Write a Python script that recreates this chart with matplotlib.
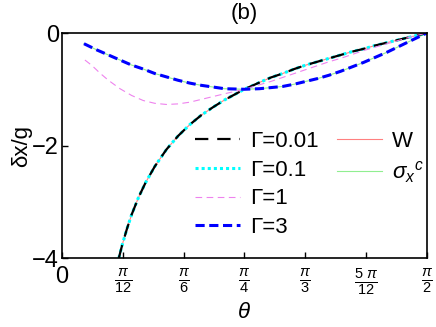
import matplotlib
matplotlib.use("Agg")
import matplotlib.pyplot as plt
from matplotlib.lines import Line2D
import numpy as np

plt.rcParams['font.family'] = ['Liberation Sans', 'DejaVu Sans']
plt.rcParams['mathtext.fontset'] = 'custom'
plt.rcParams['mathtext.rm'] = 'Liberation Sans'
plt.rcParams['mathtext.it'] = 'Liberation Sans:italic'

# curve through small-Gamma limit (Gamma=0.01, 0.1, W)
theta_a = [0.245, 0.26, 0.28, 0.30, 0.33, 0.36, 0.40, 0.45, 0.50, 0.55, 0.60, 0.65,
           0.70, 0.785, 0.85, 0.90, 0.95, 1.00, 1.05, 1.10, 1.15, 1.20, 1.25, 1.30,
           1.35, 1.40, 1.45, 1.50, 1.5708]
dx_a = [-4.00, -3.76, -3.48, -3.23, -2.92, -2.66, -2.37, -2.07, -1.83, -1.63, -1.46, -1.32,
        -1.19, -1.00, -0.88, -0.79, -0.72, -0.64, -0.57, -0.51, -0.45, -0.39, -0.33, -0.28,
        -0.22, -0.17, -0.12, -0.07, 0.0]

# curve through large-Gamma limit (Gamma=3, sigma_x^c)
theta_b = [0.095, 0.15, 0.20, 0.25, 0.30, 0.35, 0.40, 0.45, 0.50, 0.55, 0.60, 0.65, 0.70,
           0.785, 0.85, 0.90, 0.95, 1.00, 1.05, 1.10, 1.15, 1.20, 1.25, 1.30, 1.35, 1.40,
           1.45, 1.50, 1.5708]
dx_b = [-0.19, -0.30, -0.39, -0.48, -0.57, -0.64, -0.72, -0.78, -0.84, -0.89, -0.93, -0.96,
        -0.99, -1.00, -0.99, -0.97, -0.95, -0.91, -0.86, -0.81, -0.75, -0.68, -0.60, -0.52,
        -0.43, -0.34, -0.24, -0.14, 0.0]

# Gamma=1
theta_c = [0.099, 0.13, 0.163, 0.20, 0.25, 0.30, 0.35, 0.40, 0.45, 0.50, 0.55, 0.60, 0.65,
           0.70, 0.785, 0.85, 0.90, 0.95, 1.00, 1.05, 1.10, 1.15, 1.20, 1.25, 1.30, 1.35,
           1.40, 1.45, 1.50, 1.5708]
dx_c = [-0.48, -0.58, -0.71, -0.84, -0.99, -1.11, -1.20, -1.25, -1.27, -1.26, -1.23, -1.18,
        -1.13, -1.08, -1.00, -0.92, -0.86, -0.79, -0.72, -0.65, -0.58, -0.51, -0.45, -0.38,
        -0.31, -0.25, -0.19, -0.13, -0.07, 0.0]

xtick_pos = [0, np.pi/12, np.pi/6, np.pi/4, np.pi/3, 5*np.pi/12, np.pi/2]
xtick_lab = ['0', r'$\frac{\pi}{12}$', r'$\frac{\pi}{6}$', r'$\frac{\pi}{4}$',
             r'$\frac{\pi}{3}$', r'$\frac{5\ \pi}{12}$', r'$\frac{\pi}{2}$']
ytick_pos = [0, -2, -4]
ytick_lab = ['0', '\u22122', '\u22124']

fig = plt.figure(figsize=(4.36, 3.27), dpi=100)
ax = fig.add_axes([0.142, 0.211, 0.837, 0.688])

lw_w, = ax.plot(theta_a, dx_a, color='#ff8080', lw=0.8)
lsig, = ax.plot(theta_b, dx_b, color='#90ee90', lw=0.8)
l01, = ax.plot(theta_a, dx_a, color='cyan', lw=2.2, ls=(0, (1, 1)))
l001, = ax.plot(theta_a, dx_a, color='black', lw=1.6, ls=(0, (6, 4)))
l1, = ax.plot(theta_c, dx_c, color='violet', lw=0.8, ls=(0, (6, 4)))
l3, = ax.plot(theta_b, dx_b, color='blue', lw=2.2, ls=(0, (3, 1.5)))

ax.set_xlim(0, np.pi/2)
ax.set_ylim(-4, 0)
ax.set_xticks(xtick_pos)
ax.set_xticklabels(xtick_lab)
ax.set_yticks(ytick_pos)
ax.set_yticklabels(ytick_lab)
ax.tick_params(direction='in', length=4, labelsize=17, width=1)
ax.tick_params(axis='y', pad=2)
ax.tick_params(axis='x', pad=6)
for lab in ax.get_xticklabels()[1:]:
    lab.set_fontsize(15)
for s in ax.spines.values():
    s.set_linewidth(1.2)

ax.set_xlabel(r'$\theta$', fontsize=16, labelpad=4)
ax.set_ylabel('\u03b4x/g', fontsize=16, labelpad=0)
ax.set_title('(b)', fontsize=16, pad=10)

blank = Line2D([], [], color='none')
ax.legend(handles=[l001, l01, l1, l3, lw_w, lsig, blank, blank],
          labels=['\u0393=0.01', '\u0393=0.1', '\u0393=1', '\u0393=3',
                  'W', r'$\sigma_x{}^c$', '', ''],
          ncol=2, frameon=False, fontsize=16, loc='upper left',
          bbox_to_anchor=(0.364, 0.565), borderaxespad=0, borderpad=0,
          handlelength=2.05, handletextpad=0.45,
          columnspacing=0.8, labelspacing=0.35)

fig.savefig('out.png', dpi=100)
